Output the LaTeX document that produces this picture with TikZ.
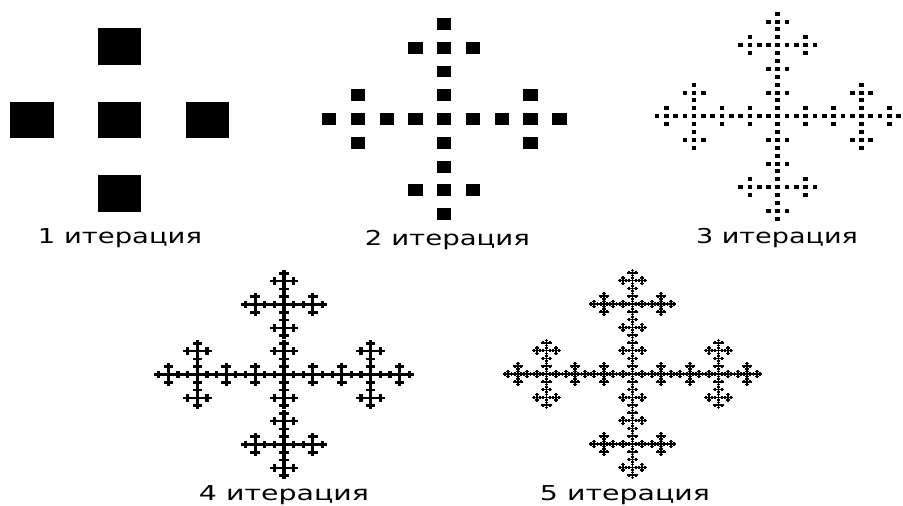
\documentclass[tikz,border=0pt]{standalone}
\usepackage{fontspec}
\setmainfont{DejaVu Sans}
\usepackage{graphicx}

% share of a grid cell that is filled
\newcommand{\cellratio}{0.5}
% #1 level, #2 x, #3 y, #4 side of the box
\newcommand{\vicsek}[4]{%
  \ifnum#1=0
    \fill[fractalcell] ({#2-#4*\cellratio/2},{#3-#4*\cellratio/2}) rectangle ++({#4*\cellratio},{#4*\cellratio});
  \else
    \foreach \dx/\dy in {0/0,1/0,-1/0,0/1,0/-1}{%
      \pgfmathtruncatemacro\sublevel{#1-1}%
      \pgfmathsetmacro\subx{#2+\dx*#4/3}%
      \pgfmathsetmacro\suby{#3+\dy*#4/3}%
      \pgfmathsetmacro\subside{#4/3}%
      \edef\next{\noexpand\vicsek{\sublevel}{\subx}{\suby}{\subside}}\next
    }%
  \fi}

\begin{document}
\begin{tikzpicture}[
  x=1pt, y=1pt,
  fractalcell/.style={fill=black},
  itertext/.style={anchor=base, inner sep=0pt, font=\fontsize{20.5}{24}\selectfont}
]
\useasboundingbox (0,0) rectangle (903,-506);

% --- Iteration 1 ---
\begin{scope}[shift={(119.5,-120)}, xscale=264, yscale=221]
  \vicsek{1}{0}{0}{1}
\end{scope}
\node[itertext] (lab1) at (120,-243) {\resizebox{164pt}{\height}{1 итерация}};

% --- Iteration 2 ---
\begin{scope}[shift={(444.3,-119)}, xscale=259, yscale=214]
  \vicsek{2}{0}{0}{1}
\end{scope}
\node[itertext] (lab2) at (447.5,-245) {\resizebox{165pt}{\height}{2 итерация}};

% --- Iteration 3 ---
\begin{scope}[shift={(777.8,-116.2)}, xscale=251, yscale=213]
  \vicsek{3}{0}{0}{1}
\end{scope}
\node[itertext] (lab3) at (777,-243) {\resizebox{162pt}{\height}{3 итерация}};

% --- Iteration 4 (finer cells look joined) ---
\begin{scope}[shift={(284,-374.5)}, xscale=260, yscale=210]
  \renewcommand{\cellratio}{1.0}
  \vicsek{4}{0}{0}{1}
\end{scope}
\node[itertext] (lab4) at (284,-500.5) {\resizebox{170pt}{\height}{4 итерация}};

% --- Iteration 5 ---
\begin{scope}[shift={(632.5,-374)}, xscale=258, yscale=210]
  \renewcommand{\cellratio}{1.7}
  \vicsek{5}{0}{0}{1}
\end{scope}
\node[itertext] (lab5) at (625,-500) {\resizebox{170pt}{\height}{5 итерация}};

\end{tikzpicture}
\end{document}
